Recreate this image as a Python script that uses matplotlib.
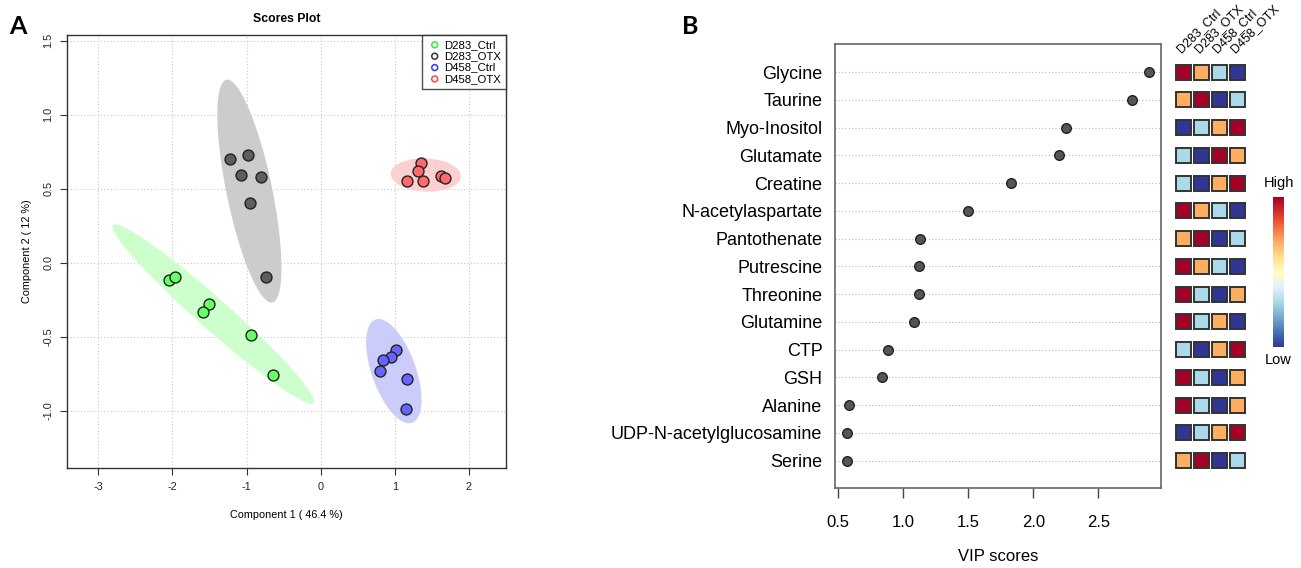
import numpy as np
import matplotlib
matplotlib.use("Agg")
import matplotlib.pyplot as plt
from matplotlib.patches import Rectangle

plt.rcParams['font.family'] = ['Liberation Sans', 'DejaVu Sans']

# ---------------- data: panel A (PLS-DA scores) ----------------
groups = ["D283_Ctrl", "D283_OTX", "D458_Ctrl", "D458_OTX"]
d283_ctrl_x = [-2.05, -1.96, -1.51, -1.59, -0.935, -0.65]
d283_ctrl_y = [-0.117, -0.10, -0.28, -0.335, -0.49, -0.757]
d283_otx_x = [-1.22, -0.975, -1.08, -0.80, -0.96, -0.74]
d283_otx_y = [0.70, 0.725, 0.595, 0.577, 0.405, -0.10]
d458_ctrl_x = [1.01, 0.955, 0.84, 0.80, 1.17, 1.145]
d458_ctrl_y = [-0.592, -0.635, -0.66, -0.734, -0.784, -0.99]
d458_otx_x = [1.35, 1.315, 1.17, 1.378, 1.62, 1.68]
d458_otx_y = [0.672, 0.617, 0.554, 0.552, 0.586, 0.572]

# ---------------- data: panel B (VIP scores) ----------------
metabolites = ["Glycine", "Taurine", "Myo-Inositol", "Glutamate", "Creatine",
               "N-acetylaspartate", "Pantothenate", "Putrescine", "Threonine",
               "Glutamine", "CTP", "GSH", "Alanine", "UDP-N-acetylglucosamine",
               "Serine"]
vip = [2.89, 2.76, 2.25, 2.20, 1.83, 1.50, 1.13, 1.12, 1.12, 1.08,
       0.88, 0.84, 0.58, 0.57, 0.57]
# relative level per group (1 = low ... 4 = high), columns follow `groups`
levels = [
    [4, 3, 2, 1],
    [3, 4, 1, 2],
    [1, 2, 3, 4],
    [2, 1, 4, 3],
    [2, 1, 3, 4],
    [4, 3, 2, 1],
    [3, 4, 1, 2],
    [4, 3, 2, 1],
    [4, 2, 1, 3],
    [4, 2, 3, 1],
    [2, 1, 3, 4],
    [4, 2, 1, 3],
    [4, 2, 1, 3],
    [1, 2, 3, 4],
    [3, 4, 1, 2],
]

# ---------------- styles ----------------
pt_colors = ["#66ff66", "#5e5e5e", "#6666ff", "#ff6b6b"]
ell_colors = ["#ccffcc", "#cccccc", "#ccccfa", "#fbd0d0"]
leg_colors = ["#33ee33", "#333333", "#3333ff", "#ff4444"]
level_colors = {1: "#313695", 2: "#abd9e9", 3: "#fdae61", 4: "#a50026"}


def conf_ellipse(x, y, level_scale=np.sqrt(5.991), n=200):
    # 95% ellipse from the group covariance (chi-square, 2 dof)
    x = np.asarray(x); y = np.asarray(y)
    cov = np.cov(x, y)
    vals, vecs = np.linalg.eigh(cov)
    t = np.linspace(0, 2 * np.pi, n)
    circ = np.vstack([np.cos(t), np.sin(t)]) * np.sqrt(vals)[:, None] * level_scale
    pts = vecs @ circ
    return x.mean() + pts[0], y.mean() + pts[1]


fig = plt.figure(figsize=(13.01, 5.68), dpi=100)

# ================= panel A =================
ax1 = fig.add_axes([0.0517, 0.176, 0.3372, 0.7629])
xs = [d283_ctrl_x, d283_otx_x, d458_ctrl_x, d458_otx_x]
ys = [d283_ctrl_y, d283_otx_y, d458_ctrl_y, d458_otx_y]
for gx, gy, ec in zip(xs, ys, ell_colors):
    ex, ey = conf_ellipse(gx, gy)
    ax1.fill(ex, ey, color=ec, lw=0, zorder=1)
for gx, gy, pc in zip(xs, ys, pt_colors):
    ax1.scatter(gx, gy, s=62, c=pc, edgecolors="#222222", linewidths=1.0, zorder=3)

ax1.set_xlim(-3.42, 2.50)
ax1.set_ylim(-1.387, 1.54)
ax1.set_xticks([-3, -2, -1, 0, 1, 2])
ax1.set_xticklabels(["-3", "-2", "-1", "0", "1", "2"])
ax1.set_yticks([-1.0, -0.5, 0.0, 0.5, 1.0, 1.5])
ax1.set_yticklabels(["-1.0", "-0.5", "0.0", "0.5", "1.0", "1.5"], rotation=90, va="center")
ax1.tick_params(labelsize=7.8, length=5, color="#333333", labelcolor="#222222", pad=5)
ax1.grid(True, linestyle=(0, (1, 2)), color="#c8c8c8", lw=0.8, zorder=0)
ax1.set_axisbelow(True)
for s in ax1.spines.values():
    s.set_color("#333333")
    s.set_linewidth(1.0)
ax1.set_xlabel("Component 1 ( 46.4 %)", fontsize=7.8, labelpad=13)
ax1.set_ylabel("Component 2 ( 12 %)", fontsize=7.8, labelpad=8)
ax1.set_title("Scores Plot", fontsize=8.8, fontweight="bold", pad=9)

handles = [ax1.scatter([], [], s=18, facecolors="none", edgecolors=c, linewidths=1.1)
           for c in leg_colors]
leg = ax1.legend(handles, groups, loc="upper right", fontsize=8.2, frameon=True,
                 fancybox=False, borderaxespad=0, handletextpad=0.1,
                 borderpad=0.45, labelspacing=0.12, handlelength=1.4)
leg.get_frame().set_edgecolor("#222222")
leg.get_frame().set_linewidth(1.0)

fig.text(18 / 1301, 1 - 27 / 568, "A", fontsize=18, fontweight="bold",
         family=["Lato", "DejaVu Sans"], ha="center", va="center")

# ================= panel B =================
ax2 = fig.add_axes([0.6418, 0.1403, 0.2508, 0.7817])
ypos = np.arange(len(metabolites), 0, -1)
for yy in ypos:
    ax2.axhline(yy, color="#bbbbbb", lw=0.8, linestyle=(0, (1, 2)), zorder=0)
ax2.scatter(vip, ypos, s=48, c="#555555", edgecolors="#222222", linewidths=1.0, zorder=3)
ax2.set_xlim(0.475, 2.985)
ax2.set_ylim(0, len(metabolites) + 1)
ax2.set_xticks([0.5, 1.0, 1.5, 2.0, 2.5])
ax2.set_xticklabels(["0.5", "1.0", "1.5", "2.0", "2.5"])
ax2.set_yticks(ypos)
ax2.set_yticklabels(metabolites)
ax2.tick_params(axis="y", length=0, labelsize=13, pad=9)
ax2.tick_params(axis="x", length=7, width=1.0, color="#444444", labelsize=12, pad=12)
for s in ax2.spines.values():
    s.set_color("#666666")
    s.set_linewidth(1.2)
ax2.set_xlabel("VIP scores", fontsize=12, labelpad=14)

fig.text(690 / 1301, 1 - 26 / 568, "B", fontsize=18, fontweight="bold",
         family=["Lato", "DejaVu Sans"], ha="center", va="center")

# mini heatmap of group levels
ax3 = fig.add_axes([1175 / 1301, 0.1403, 71.7 / 1301, 0.7817])
ax3.set_xlim(0.5, 4.5)
ax3.set_ylim(0, len(metabolites) + 1)
ax3.axis("off")
w, h = 0.84, 0.54
for row, yy in zip(levels, ypos):
    for j, lv in enumerate(row):
        ax3.add_patch(Rectangle((j + 1 - w / 2, yy - h / 2), w, h,
                                facecolor=level_colors[lv], edgecolor="#333333",
                                lw=1.4, clip_on=False))
for j, g in enumerate(groups):
    ax3.text(j + 0.5, 15.62, g, rotation=45, ha="left", va="bottom",
             fontsize=9, clip_on=False)

# colour key
axc = fig.add_axes([1273.3 / 1301, (568 - 346.7) / 568, 10.7 / 1301, 150 / 568])
grad = np.linspace(1, 0, 256).reshape(-1, 1)
axc.imshow(grad, aspect="auto", cmap="RdYlBu_r")
axc.axis("off")
fig.text(1278.5 / 1301, 1 - 183 / 568, "High", fontsize=10.5, ha="center", va="center")
fig.text(1278.5 / 1301, 1 - 360 / 568, "Low", fontsize=10.5, ha="center", va="center")

fig.savefig("out.png", dpi=100)
